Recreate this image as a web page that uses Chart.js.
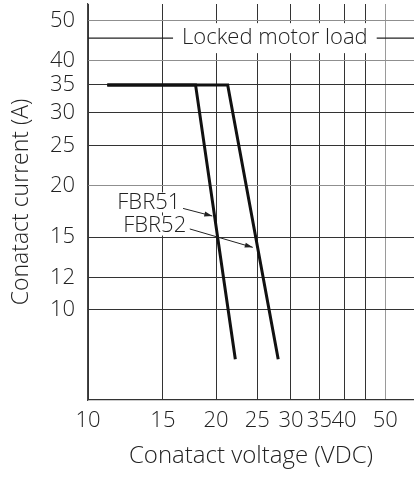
<!DOCTYPE html>
<html>
<head>
<meta charset="utf-8">
<script src="https://cdn.jsdelivr.net/npm/chart.js@4.4.1/dist/chart.umd.min.js"></script>
<style>
  html, body { margin: 0; padding: 0; background: #fff; }
  #wrap { width: 414px; height: 477px; }
</style>
</head>
<body>
<div id="wrap"><canvas id="grafico" width="414" height="477"></canvas></div>
<script>
// Ticks of both log axes (45 V has a gridline but no label)
const yTicks = [10, 12, 15, 20, 25, 30, 35, 40, 50];
const xTicks = [10, 15, 20, 25, 30, 35, 40, 45, 50];
const xTickLabels = ['10', '15', '20', '25', '30', '35', '40', '', '50'];

// Curves (voltage V, current A)
const fbr51Voltage = [11.1, 17.9, 22.2];
const fbr51Current = [35, 35, 7.6];
const fbr52Voltage = [11.1, 21.3, 28.0];
const fbr52Current = [35, 35, 7.6];

// Reference line "Locked motor load"
const lockedMotorCurrent = 45.4;

const FONTE = "'Open Sans', 'Noto Sans', sans-serif";
const COR_TEXTO = '#222';

function pontos(xs, ys) {
  return xs.map((v, i) => ({ x: v, y: ys[i] }));
}

// white box with centered text, covering gridlines behind it
function caixaTexto(ctx, texto, cx, cy, padX, alt) {
  const w = ctx.measureText(texto).width;
  ctx.fillStyle = '#fff';
  ctx.fillRect(cx - w / 2 - padX, cy - alt / 2, w + padX * 2, alt);
  ctx.fillStyle = COR_TEXTO;
  ctx.textAlign = 'center';
  ctx.textBaseline = 'middle';
  ctx.fillText(texto, cx, cy);
}

function seta(ctx, x0, y0, x1, y1) {
  const ang = Math.atan2(y1 - y0, x1 - x0);
  ctx.strokeStyle = COR_TEXTO;
  ctx.lineWidth = 1;
  ctx.beginPath();
  ctx.moveTo(x0, y0);
  ctx.lineTo(x1, y1);
  ctx.stroke();
  ctx.fillStyle = COR_TEXTO;
  ctx.beginPath();
  ctx.moveTo(x1, y1);
  ctx.lineTo(x1 - 8 * Math.cos(ang) + 2.5 * Math.sin(ang), y1 - 8 * Math.sin(ang) - 2.5 * Math.cos(ang));
  ctx.lineTo(x1 - 8 * Math.cos(ang) - 2.5 * Math.sin(ang), y1 - 8 * Math.sin(ang) + 2.5 * Math.cos(ang));
  ctx.closePath();
  ctx.fill();
}

// Labels and arrows, placed in data units
const anotacoes = {
  id: 'anotacoes',
  afterDatasetsDraw(chart) {
    const { ctx, chartArea, scales: { x, y } } = chart;
    ctx.save();
    ctx.font = `300 22px ${FONTE}`;

    const yl = y.getPixelForValue(lockedMotorCurrent);
    ctx.strokeStyle = COR_TEXTO;
    ctx.lineWidth = 1.2;
    ctx.beginPath();
    ctx.moveTo(chartArea.left, yl);
    ctx.lineTo(chartArea.right, yl);
    ctx.stroke();
    caixaTexto(ctx, 'Locked motor load', x.getPixelForValue(27.5), yl, 9, 30);

    caixaTexto(ctx, 'FBR51', x.getPixelForValue(13.9), y.getPixelForValue(18.2), 3, 20);
    caixaTexto(ctx, 'FBR52', x.getPixelForValue(14.35), y.getPixelForValue(16.0), 8, 20);

    seta(ctx, x.getPixelForValue(16.73), y.getPixelForValue(17.6),
              x.getPixelForValue(19.6), y.getPixelForValue(16.87));
    seta(ctx, x.getPixelForValue(17.35), y.getPixelForValue(15.7),
              x.getPixelForValue(24.4), y.getPixelForValue(14.17));
    ctx.restore();
  }
};

const corGrade = (v) => (v === 50 || v === 40 || v === 20) ? '#8f8f8f' : '#333';

new Chart(document.getElementById('grafico').getContext('2d'), {
  type: 'line',
  data: {
    datasets: [
      { label: 'FBR51', data: pontos(fbr51Voltage, fbr51Current) },
      { label: 'FBR52', data: pontos(fbr52Voltage, fbr52Current) }
    ]
  },
  options: {
    responsive: false,
    devicePixelRatio: 1,
    animation: false,
    layout: { padding: { top: 4, right: 0, left: 0, bottom: 0 } },
    elements: {
      line: { borderColor: '#111', borderWidth: 3, tension: 0 },
      point: { radius: 0 }
    },
    plugins: { legend: { display: false }, tooltip: { enabled: false } },
    scales: {
      x: {
        type: 'logarithmic',
        min: 10,
        max: 58.4,
        afterBuildTicks: (s) => { s.ticks = xTicks.map(v => ({ value: v })); },
        afterFit: (s) => { s.height = 77; s.paddingLeft = 0; s.paddingRight = 0; },
        grid: {
          drawTicks: false,
          color: (c) => c.tick && c.tick.value === 50 ? '#9a9a9a' : '#333',
          lineWidth: 1
        },
        border: { color: '#333', width: 1.2 },
        ticks: {
          autoSkip: false,
          maxRotation: 0,
          padding: 8,
          color: COR_TEXTO,
          font: { family: FONTE, size: 22, weight: 300 },
          callback: (v, i) => xTickLabels[i]
        },
        title: {
          display: true,
          text: 'Conatact voltage (VDC)',
          color: COR_TEXTO,
          font: { family: FONTE, size: 24, weight: 300 },
          padding: { top: 0, bottom: 6 }
        }
      },
      y: {
        type: 'logarithmic',
        min: 6.06,
        max: 54.9,
        afterBuildTicks: (s) => { s.ticks = yTicks.map(v => ({ value: v })); },
        afterFit: (s) => { s.width = 88; s.paddingTop = 0; s.paddingBottom = 0; },
        grid: {
          drawTicks: false,
          color: (c) => c.tick ? corGrade(c.tick.value) : '#333',
          lineWidth: 1
        },
        border: { color: '#444', width: 1.2 },
        ticks: {
          padding: 13,
          color: COR_TEXTO,
          font: { family: FONTE, size: 22, weight: 300 },
          callback: (v) => String(v)
        },
        title: {
          display: true,
          text: 'Conatact current (A)',
          color: COR_TEXTO,
          font: { family: FONTE, size: 23, weight: 300 },
          padding: { top: 8, bottom: 0 }
        }
      }
    }
  },
  plugins: [anotacoes]
});
</script>
</body>
</html>
